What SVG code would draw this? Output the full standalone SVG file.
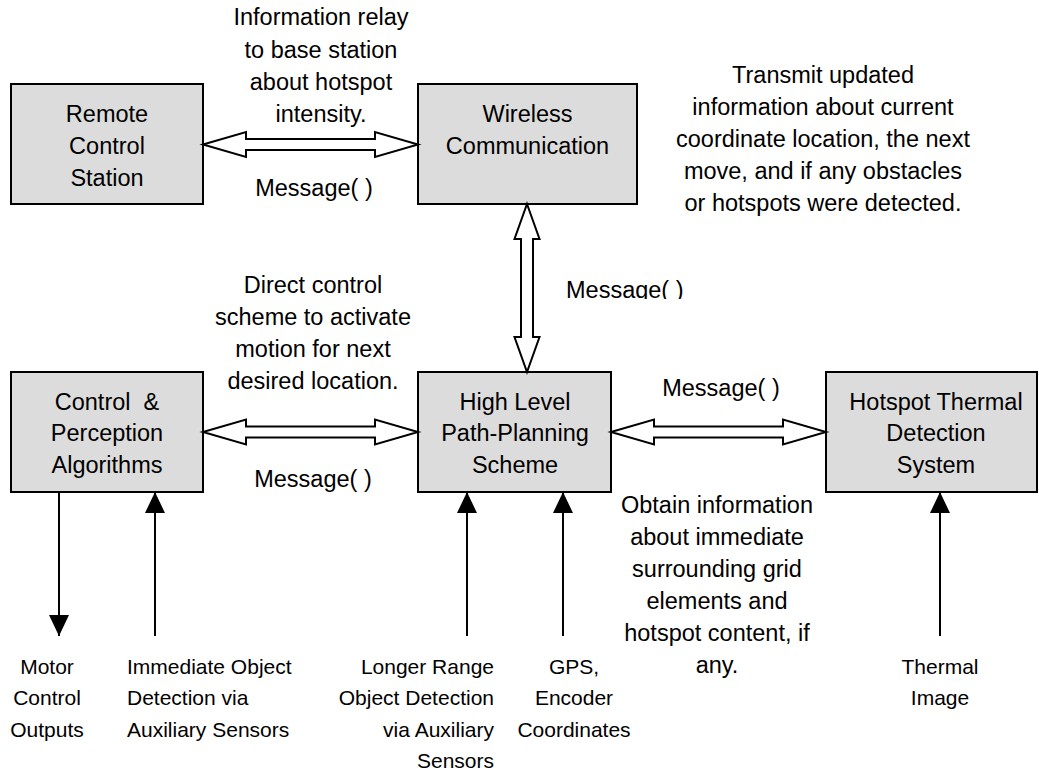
<svg xmlns="http://www.w3.org/2000/svg" width="1039" height="773" viewBox="0 0 1039 773">
  <style>
    .box { fill: #dcdcdc; stroke: #000; stroke-width: 2; }
    .dbl { fill: #fff; stroke: #000; stroke-width: 2; stroke-linejoin: miter; }
    .ln { stroke: #000; stroke-width: 2; fill: none; }
    text { font-family: "Liberation Sans", Arial, sans-serif; fill: #000; }
    .t { font-size: 23.5px; text-anchor: middle; }
    .s { font-size: 21px; }
    .c { text-anchor: middle; }
    .r { text-anchor: end; }
    .l { text-anchor: start; }
  </style>
  <defs>
    <marker id="head" markerUnits="userSpaceOnUse" markerWidth="22" markerHeight="22" refX="21" refY="10" orient="auto">
      <path d="M0,0 L21,10 L0,20 Z" fill="#000"/>
    </marker>
    <clipPath id="msgClip">
      <rect x="550" y="260" width="160" height="39"/>
    </clipPath>
  </defs>
  <rect width="1039" height="773" fill="#fff"/>

  <!-- nodes -->
  <g id="remote">
    <rect class="box" x="11" y="84" width="192" height="120"/>
    <text class="t" x="107" y="121.5">Remote</text>
    <text class="t" x="107" y="153.5">Control</text>
    <text class="t" x="107" y="185.5">Station</text>
  </g>
  <g id="wireless">
    <rect class="box" x="418" y="84" width="219" height="120"/>
    <text class="t" x="527.5" y="121.5">Wireless</text>
    <text class="t" x="527.5" y="153.5">Communication</text>
  </g>
  <g id="control">
    <rect class="box" x="11" y="372" width="192" height="120"/>
    <text class="t" x="107" y="409.5" xml:space="preserve">Control  &amp;</text>
    <text class="t" x="107" y="440.5">Perception</text>
    <text class="t" x="107" y="472.5">Algorithms</text>
  </g>
  <g id="planner">
    <rect class="box" x="418" y="372" width="193" height="120"/>
    <text class="t" x="515" y="409.5">High Level</text>
    <text class="t" x="515" y="440.5">Path-Planning</text>
    <text class="t" x="515" y="472.5">Scheme</text>
  </g>
  <g id="thermal">
    <rect class="box" x="826" y="372" width="211" height="120"/>
    <text class="t" x="936" y="409.5">Hotspot Thermal</text>
    <text class="t" x="936" y="440.5">Detection</text>
    <text class="t" x="936" y="472.5">System</text>
  </g>

  <!-- connectors -->
  <g id="connectors">
    <path class="dbl" d="M203,144.5 L246,132 L246,139 L375,139 L375,132 L418,144.5 L375,157 L375,150 L246,150 L246,157 Z"/>
    <path class="dbl" d="M527,204 L539.5,239 L533,239 L533,337 L539.5,337 L527,372 L514.5,337 L521,337 L521,239 L514.5,239 Z"/>
    <path class="dbl" d="M203,432 L246,419.5 L246,426.5 L375,426.5 L375,419.5 L418,432 L375,444.5 L375,437.5 L246,437.5 L246,444.5 Z"/>
    <path class="dbl" d="M611,432 L654,419.5 L654,426.5 L783,426.5 L783,419.5 L826,432 L783,444.5 L783,437.5 L654,437.5 L654,444.5 Z"/>
    <line class="ln" x1="59" y1="492" x2="59" y2="636" marker-end="url(#head)"/>
    <line class="ln" x1="155" y1="636" x2="155" y2="492" marker-end="url(#head)"/>
    <line class="ln" x1="467" y1="636" x2="467" y2="492" marker-end="url(#head)"/>
    <line class="ln" x1="563" y1="636" x2="563" y2="492" marker-end="url(#head)"/>
    <line class="ln" x1="940" y1="636" x2="940" y2="492" marker-end="url(#head)"/>
  </g>

  <!-- connector labels -->
  <g id="labels">
    <text class="t" x="321" y="25">Information relay</text>
    <text class="t" x="321" y="57.5">to base station</text>
    <text class="t" x="321" y="90">about hotspot</text>
    <text class="t" x="321" y="121.5">intensity.</text>
    <text class="t" x="314" y="195.5">Message( )</text>

    <text class="t" x="823" y="82.5">Transmit updated</text>
    <text class="t" x="823" y="114.5">information about current</text>
    <text class="t" x="823" y="146.5">coordinate location, the next</text>
    <text class="t" x="823" y="178.5">move, and if any obstacles</text>
    <text class="t" x="823" y="210.5">or hotspots were detected.</text>

    <text class="t" x="566" y="297.5" style="text-anchor:start" clip-path="url(#msgClip)">Message( )</text>

    <text class="t" x="313" y="292.5">Direct control</text>
    <text class="t" x="313" y="324.5">scheme to activate</text>
    <text class="t" x="313" y="356.5">motion for next</text>
    <text class="t" x="313" y="388.5">desired location.</text>

    <text class="t" x="721" y="395.5">Message( )</text>
    <text class="t" x="313" y="486.5">Message( )</text>

    <text class="t" x="717" y="513">Obtain information</text>
    <text class="t" x="717" y="545">about immediate</text>
    <text class="t" x="717" y="577">surrounding grid</text>
    <text class="t" x="717" y="609">elements and</text>
    <text class="t" x="717" y="641">hotspot content, if</text>
    <text class="t" x="717" y="673">any.</text>
  </g>

  <!-- external inputs and outputs -->
  <g id="io">
    <text class="s c" x="47" y="673.5">Motor</text>
    <text class="s c" x="47" y="705">Control</text>
    <text class="s c" x="47" y="736.5">Outputs</text>

    <text class="s l" x="127" y="673.5">Immediate Object</text>
    <text class="s l" x="127" y="705">Detection via</text>
    <text class="s l" x="127" y="736.5">Auxiliary Sensors</text>

    <text class="s r" x="494" y="673.5">Longer Range</text>
    <text class="s r" x="494" y="705">Object Detection</text>
    <text class="s r" x="494" y="736.5">via Auxiliary</text>
    <text class="s r" x="494" y="768">Sensors</text>

    <text class="s c" x="574" y="673.5">GPS,</text>
    <text class="s c" x="574" y="705">Encoder</text>
    <text class="s c" x="574" y="736.5">Coordinates</text>

    <text class="s c" x="940" y="673.5">Thermal</text>
    <text class="s c" x="940" y="705">Image</text>
  </g>
</svg>
